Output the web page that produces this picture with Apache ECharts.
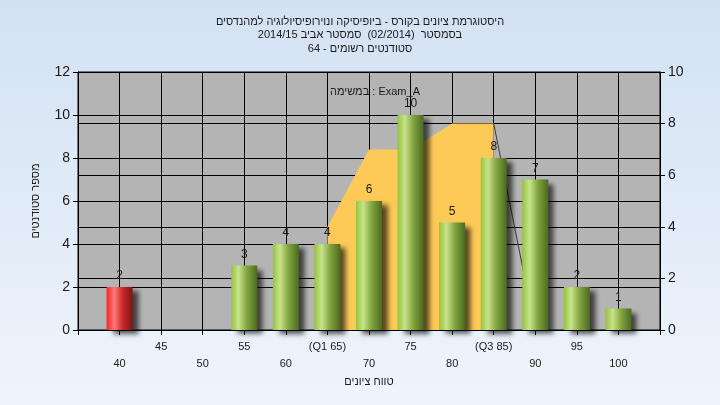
<!DOCTYPE html>
<html>
<head>
<meta charset="utf-8">
<script src="https://cdn.jsdelivr.net/npm/echarts@6/dist/echarts.min.js"></script>
<style>html,body{margin:0;padding:0;}#c{width:720px;height:405px;}</style>
</head>
<body>
<div id="c"></div>
<script>
// ---- data ----
const scores = [40, 45, 50, 55, 60, 65, 70, 75, 80, 85, 90, 95, 100];
const counts = [2, 0, 0, 3, 4, 4, 6, 10, 5, 8, 7, 2, 1];
const xTickLabels = ['40', '45', '50', '55', '60', '(Q1 65)', '70', '75', '80', '(Q3 85)', '90', '95', '100'];
const failScores = [40];
const quartileX = [65, 70, 75, 80, 85];
const quartileY = [4, 7, 7, 8, 8];
const tailX = [85, 90];
const tailY = [8, 0];
const leftTicks = [0, 12, 2];
const rightTicks = [0, 10, 2];
const titleLines = [
  'היסטוגרמת ציונים בקורס - ביופיסיקה ונוירופיסיולוגיה למהנדסים',
  '2014/15 בסמסטר  (02/2014)  סמסטר אביב',
  '64 - סטודנטים רשומים'
];
const taskText = 'במשימה : Exam_A';
const yName = 'מספר סטודנטים';
const xName = 'טווח ציונים';

const FONT = "'Liberation Sans', 'DejaVu Sans', sans-serif";
const greenGrad = new echarts.graphic.LinearGradient(0, 0, 1, 0, [
  {offset: 0, color: '#97c23e'},
  {offset: 0.28, color: '#c8e38b'},
  {offset: 0.6, color: '#82a540'},
  {offset: 1, color: '#4b6a1f'}
]);
const redGrad = new echarts.graphic.LinearGradient(0, 0, 1, 0, [
  {offset: 0, color: '#ff2222'},
  {offset: 0.3, color: '#ff7a7a'},
  {offset: 0.6, color: '#d02a2a'},
  {offset: 1, color: '#7a1515'}
]);

const barData = [];
scores.forEach((s, i) => {
  if (counts[i] > 0) {
    barData.push({
      value: [s, counts[i]],
      itemStyle: {color: failScores.includes(s) ? redGrad : greenGrad}
    });
  }
});
const areaData = quartileX.map((x, i) => [x, quartileY[i]]);
const tailData = tailX.map((x, i) => [x, tailY[i]]);

const chart = echarts.init(document.getElementById('c'), null, {renderer: 'canvas'});
chart.setOption({
  animation: false,
  backgroundColor: new echarts.graphic.LinearGradient(0, 0, 0, 1, [
    {offset: 0, color: '#d3e1f3'},
    {offset: 1, color: '#eef5fc'}
  ]),
  title: [
    {
      text: titleLines.join('\n'),
      left: 'center', top: 10,
      textStyle: {fontFamily: FONT, fontSize: 11, fontWeight: 'normal', color: '#1a1a1a', lineHeight: 13.5, align: 'center'}
    },
    {
      text: taskText,
      left: 325, top: 81,
      textStyle: {fontFamily: FONT, fontSize: 11, fontWeight: 'normal', color: '#1a1a1a'}
    }
  ],
  grid: {
    left: 78, right: 60, top: 72, bottom: 75,
    show: true, backgroundColor: '#b4b4b4', borderColor: '#000', borderWidth: 1
  },
  xAxis: {
    type: 'value', min: 35, max: 105, interval: 5,
    name: xName, nameLocation: 'middle', nameGap: 44,
    nameTextStyle: {fontFamily: FONT, fontSize: 11, color: '#1a1a1a'},
    axisLine: {show: true, lineStyle: {color: '#000', width: 1}},
    axisTick: {show: true, length: 5, lineStyle: {color: '#000'}},
    splitLine: {show: true, lineStyle: {color: '#000', width: 1}},
    axisLabel: {
      margin: 8, fontFamily: FONT, fontSize: 11, color: '#1a1a1a', lineHeight: 17,
      showMinLabel: true, showMaxLabel: true,
      formatter: function (v) {
        const i = scores.indexOf(v);
        if (i < 0) return '';
        return i % 2 === 1 ? xTickLabels[i] : '\n' + xTickLabels[i];
      }
    }
  },
  yAxis: [
    {
      type: 'value', min: leftTicks[0], max: leftTicks[1], interval: leftTicks[2], position: 'left',
      name: yName, nameLocation: 'middle', nameGap: 37, nameRotate: 90,
      nameTextStyle: {fontFamily: FONT, fontSize: 11, color: '#1a1a1a'},
      axisLine: {show: true, lineStyle: {color: '#000'}},
      axisTick: {show: true, length: 5, lineStyle: {color: '#000'}},
      splitLine: {show: true, lineStyle: {color: '#000', width: 1}},
      axisLabel: {margin: 8, fontFamily: FONT, fontSize: 14, color: '#1a1a1a'}
    },
    {
      type: 'value', min: rightTicks[0], max: rightTicks[1], interval: rightTicks[2], position: 'right',
      axisLine: {show: true, lineStyle: {color: '#000'}},
      axisTick: {show: true, length: 5, lineStyle: {color: '#000'}},
      splitLine: {show: true, lineStyle: {color: '#000', width: 1}},
      axisLabel: {margin: 8, fontFamily: FONT, fontSize: 14, color: '#1a1a1a'}
    }
  ],
  series: [
    {
      type: 'line', yAxisIndex: 1, data: areaData, symbol: 'none', z: 1,
      lineStyle: {width: 0, color: '#fdca57'},
      areaStyle: {color: '#fdca57', opacity: 1}
    },
    {
      type: 'line', yAxisIndex: 1, data: tailData, symbol: 'none', z: 1,
      lineStyle: {width: 1, color: '#3a3a3a'}
    },
    {
      type: 'bar', yAxisIndex: 0, data: barData, barWidth: 26, z: 3,
      itemStyle: {shadowColor: 'rgba(0,0,0,0.65)', shadowBlur: 5, shadowOffsetX: 6, shadowOffsetY: 4},
      label: {show: true, position: 'top', distance: 5, fontFamily: FONT, fontSize: 12, color: '#1a1a1a',
        formatter: p => p.value[1]}
    }
  ]
});
</script>
</body>
</html>
